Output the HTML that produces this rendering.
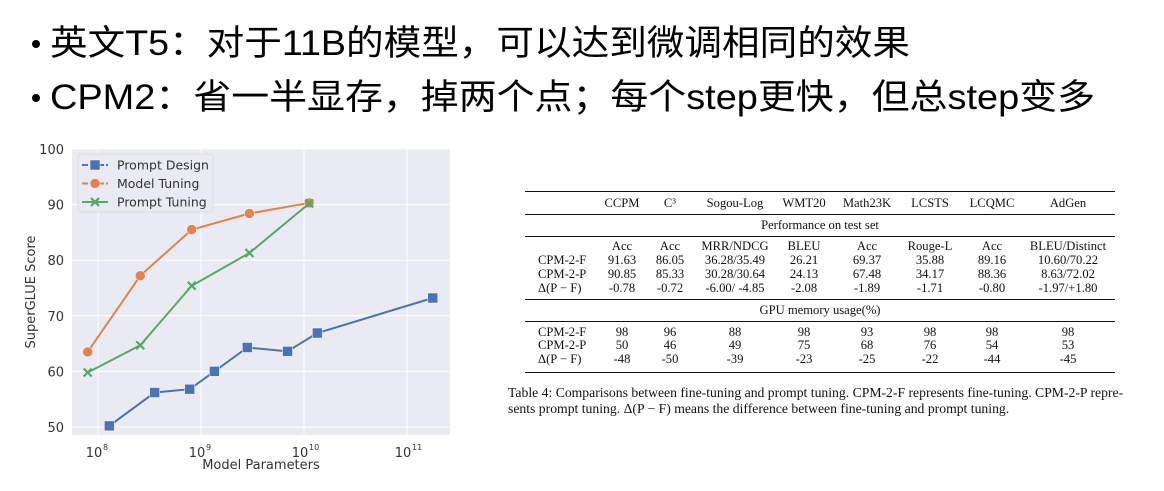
<!DOCTYPE html>
<html><head><meta charset="utf-8"><style>
body{margin:0;width:1164px;height:491px;background:#fff;overflow:hidden;position:relative;font-family:"Liberation Sans","Noto Sans CJK SC",sans-serif}
.t{position:absolute;font-family:"Liberation Serif",serif;font-size:12.6px;color:#111;white-space:nowrap;transform:translateX(-50%)}
.l{position:absolute;font-family:"Liberation Serif",serif;font-size:12.6px;color:#111;white-space:nowrap}
.rule{position:absolute;left:525px;width:590px;background:#111}
</style></head><body>
<svg width="1164" height="130" style="position:absolute;left:0;top:0">
<circle cx="36" cy="44" r="4" fill="#000"/>
<text x="50" y="55" font-size="35" font-family="'Liberation Sans','Noto Sans CJK SC',sans-serif" textLength="860" lengthAdjust="spacingAndGlyphs">英文T5：对于11B的模型，可以达到微调相同的效果</text>
<circle cx="36" cy="98" r="4" fill="#000"/>
<text x="50" y="109" font-size="35" font-family="'Liberation Sans','Noto Sans CJK SC',sans-serif" textLength="1045" lengthAdjust="spacingAndGlyphs">CPM2：省一半显存，掉两个点；每个step更快，但总step变多</text>
</svg>
<svg id="chart" width="470" height="360" style="position:absolute;left:0;top:130"></svg>
<script>
const pdX=[8.11,8.55,8.89,9.13,9.45,9.84,10.13,11.25];
const pdY=[50.2,56.2,56.8,60.0,64.3,63.6,66.9,73.2];
const mtX=[7.9,8.41,8.91,9.47,10.05];
const mtY=[63.5,77.2,85.5,88.4,90.3];
const ptX=[7.9,8.41,8.91,9.47,10.05];
const ptY=[59.8,64.7,75.4,81.3,90.2];
const yTicks=[50,60,70,80,90,100];
const xTicks=[8,9,10,11];
const xTickSup=["8","9","10","11"];
const svg=document.getElementById('chart');const NS='http://www.w3.org/2000/svg';
const L=72,R=450,T=19,B=305;
const sx=v=>98+(v-8)*103;
const sy=v=>19+(100-v)*5.56;
function mk(t,a,p){const e=document.createElementNS(NS,t);for(const k in a)e.setAttribute(k,a[k]);(p||svg).appendChild(e);return e;}
let bg=mk('rect',{x:L,y:T,width:R-L,height:B-T,fill:'#eaeaf2'});


yTicks.forEach(v=>{mk('line',{x1:L,x2:R,y1:sy(v),y2:sy(v),stroke:'#fff','stroke-width':1});
let t=mk('text',{x:L-8,y:sy(v)+5,'text-anchor':'end','font-size':13,fill:'#333','font-family':'DejaVu Sans,sans-serif'});t.textContent=v;

});
xTicks.forEach((v,i)=>{mk('line',{x1:sx(v),x2:sx(v),y1:T,y2:B,stroke:'#fff','stroke-width':1});
let t=mk('text',{x:sx(v)-4,y:B+22,'text-anchor':'middle','font-size':13,fill:'#333','font-family':'DejaVu Sans,sans-serif'});t.textContent='10';


let s=mk('text',{x:sx(v)+5,y:B+15,'text-anchor':'start','font-size':8,fill:'#333','font-family':'DejaVu Sans,sans-serif'});s.textContent=xTickSup[i];});
let xl=mk('text',{x:261,y:339,'text-anchor':'middle','font-size':13,fill:'#333','font-family':'DejaVu Sans,sans-serif'});xl.textContent='Model Parameters';


let yl=mk('text',{x:0,y:0,'text-anchor':'middle','font-size':13,fill:'#333','font-family':'DejaVu Sans,sans-serif',transform:'translate(35,162) rotate(-90)'});yl.textContent='SuperGLUE Score';


function marker(type,x,y,c,g){
 if(type==='s')mk('rect',{x:x-5,y:y-5,width:10,height:10,fill:c,stroke:'#fff','stroke-width':0.5},g);
 else if(type==='o')mk('circle',{cx:x,cy:y,r:5,fill:c,stroke:'#fff','stroke-width':0.5},g);
 else{mk('path',{d:`M${x-4},${y-4}L${x+4},${y+4}M${x-4},${y+4}L${x+4},${y-4}`,stroke:c,'stroke-width':2.2},g);}
}
function series(xs,ys,c,type,name){
 const g=mk('g',{});
 
 
 mk('polyline',{points:xs.map((x,i)=>sx(x)+','+sy(ys[i])).join(' '),fill:'none',stroke:c,'stroke-width':2},g);
 xs.forEach((x,i)=>marker(type,sx(x),sy(ys[i]),c,g));
}
series(pdX,pdY,'#4c72b0','s','series-prompt-design');
series(mtX,mtY,'#dd8452','o','series-model-tuning');
series(ptX,ptY,'#55a868','x','series-prompt-tuning');
const lg=mk('g',{});


mk('rect',{x:78,y:24,width:135,height:58,fill:'#eaeaf2',stroke:'#ddd',rx:3},lg);
[['Prompt Design','#4c72b0','s'],['Model Tuning','#dd8452','o'],['Prompt Tuning','#55a868','x']].forEach((e,i)=>{
 const y=35+i*18.5;
 mk('line',{x1:82,x2:108,y1:y,y2:y,stroke:e[1],'stroke-width':2,'stroke-dasharray':i<2?'6,2':'none'},lg);
 marker(e[2],95,y,e[1],lg);
 const t=mk('text',{x:117,y:y+4.5,'font-size':12.5,fill:'#333','font-family':'DejaVu Sans,sans-serif'},lg);t.textContent=e[0];
});
</script>
<div>
<div class="rule" style="top:191px;height:1.3px"></div>
<div class="rule" style="top:214px;height:0.8px"></div>
<div class="rule" style="top:236px;height:0.8px"></div>
<div class="rule" style="top:299px;height:0.8px"></div>
<div class="rule" style="top:321px;height:0.8px"></div>
<div class="rule" style="top:372px;height:1.3px"></div>
<div id="tb"></div>
</div>
<script>
const cols=[622,670,735,804,867,930,992,1068];
const rows=[
[196,['CCPM','C³','Sogou-Log','WMT20','Math23K','LCSTS','LCQMC','AdGen'],''],
[239,['Acc','Acc','MRR/NDCG','BLEU','Acc','Rouge-L','Acc','BLEU/Distinct'],''],
[253,['91.63','86.05','36.28/35.49','26.21','69.37','35.88','89.16','10.60/70.22'],'CPM-2-F'],
[267,['90.85','85.33','30.28/30.64','24.13','67.48','34.17','88.36','8.63/72.02'],'CPM-2-P'],
[281,['-0.78','-0.72','-6.00/ -4.85','-2.08','-1.89','-1.71','-0.80','-1.97/+1.80'],'Δ(P − F)'],
[325,['98','96','88','98','93','98','98','98'],'CPM-2-F'],
[338,['50','46','49','75','68','76','54','53'],'CPM-2-P'],
[352,['-48','-50','-39','-23','-25','-22','-44','-45'],'Δ(P − F)']];
const tb=document.getElementById('tb');
rows.forEach(r=>{
 if(r[2]){const d=document.createElement('div');d.className='l';d.style.left='538px';d.style.top=r[0]+'px';d.textContent=r[2];
 
 tb.appendChild(d);}
 r[1].forEach((v,i)=>{const d=document.createElement('div');d.className='t';d.style.left=cols[i]+'px';d.style.top=r[0]+'px';d.textContent=v;
 
 tb.appendChild(d);});
});
[[218,'Performance on test set'],[303,'GPU memory usage(%)']].forEach(s=>{const d=document.createElement('div');d.className='t';d.style.left='820px';d.style.top=s[0]+'px';d.textContent=s[1];
 
 tb.appendChild(d);});
</script>
<div class="l" style="left:508px;top:385px;font-size:13.7px;line-height:16px">Table 4: Comparisons between fine-tuning and prompt tuning. CPM-2-F represents fine-tuning. CPM-2-P repre-<br>sents prompt tuning. Δ(P − F) means the difference between fine-tuning and prompt tuning.</div>
</body></html>
